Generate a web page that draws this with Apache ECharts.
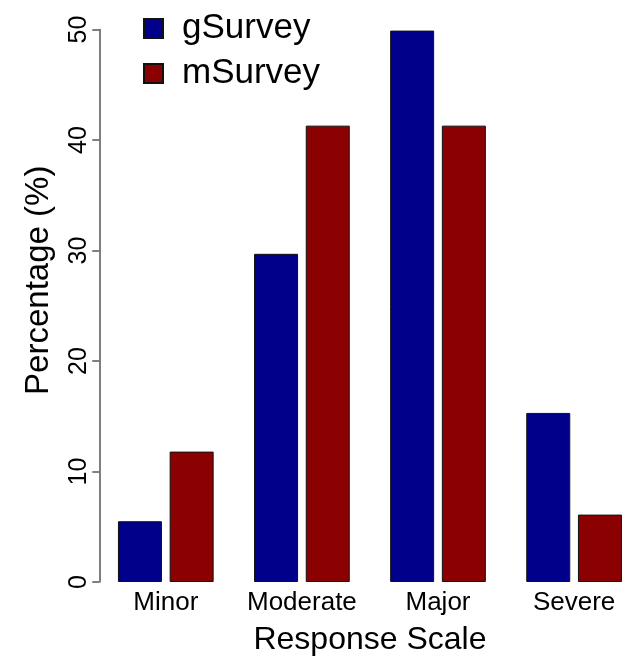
<!DOCTYPE html>
<html>
<head>
<meta charset="utf-8">
<script src="https://cdn.jsdelivr.net/npm/echarts@6/dist/echarts.min.js"></script>
<style>
html,body{margin:0;padding:0;background:#fff;}
#chart{width:635px;height:666px;}
</style>
</head>
<body>
<div id="chart"></div>
<script>
var categories = ['Minor', 'Moderate', 'Major', 'Severe'];
var gSurvey = [5.5, 29.7, 49.9, 15.3];
var mSurvey = [11.8, 41.3, 41.3, 6.1];
var seriesNames = ['gSurvey', 'mSurvey'];
var yTicks = {min: 0, max: 50, interval: 10};

var FONT = 'Liberation Sans, Arial, Helvetica, sans-serif';
var chart = echarts.init(document.getElementById('chart'), null, {renderer: 'canvas'});
chart.setOption({
  backgroundColor: '#ffffff',
  animation: false,
  textStyle: {fontFamily: FONT, color: '#000'},
  legend: {
    orient: 'vertical',
    left: 138,
    top: 6,
    itemWidth: 19,
    itemHeight: 19,
    itemGap: 10,
    icon: 'rect',
    textStyle: {fontFamily: FONT, fontSize: 35, color: '#000', lineHeight: 34, padding: [0, 0, 0, 14]},
    data: seriesNames
  },
  grid: {left: 97.75, width: 544.4, top: 29.5, bottom: 84, containLabel: false, outerBoundsMode: 'none'},
  xAxis: {
    type: 'category',
    data: categories,
    name: 'Response Scale',
    nameLocation: 'middle',
    nameGap: 42,
    nameTextStyle: {fontFamily: FONT, fontSize: 32, color: '#000'},
    axisLine: {show: false},
    axisTick: {show: false},
    axisLabel: {fontFamily: FONT, fontSize: 26, color: '#000', margin: 8, interval: 0},
    splitLine: {show: false}
  },
  yAxis: {
    type: 'value',
    min: yTicks.min,
    max: yTicks.max,
    interval: yTicks.interval,
    offset: -1.5,
    name: 'Percentage (%)',
    nameLocation: 'middle',
    nameGap: 44,
    nameTextStyle: {fontFamily: FONT, fontSize: 33, color: '#000', padding: [0, 0, 0, 51]},
    axisLine: {show: true, lineStyle: {color: '#555', width: 1.5}},
    axisTick: {show: true, inside: false, length: 7, lineStyle: {color: '#555', width: 1.5}},
    axisLabel: {fontFamily: FONT, fontSize: 25, color: '#000', rotate: 90, margin: 8},
    splitLine: {show: false}
  },
  series: [
    {
      name: seriesNames[0], type: 'bar', data: gSurvey,
      barWidth: 44, barGap: '17.5%',
      itemStyle: {color: '#00008B', borderColor: '#111', borderWidth: 1}
    },
    {
      name: seriesNames[1], type: 'bar', data: mSurvey,
      barWidth: 44, barGap: '17.5%',
      itemStyle: {color: '#8B0000', borderColor: '#111', borderWidth: 1}
    }
  ]
});
</script>
</body>
</html>
